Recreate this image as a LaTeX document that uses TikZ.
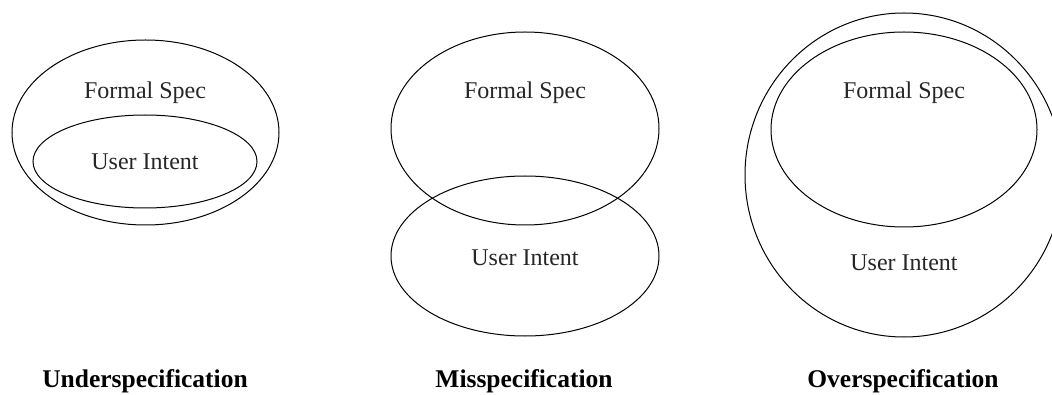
\documentclass[tikz,border=0pt]{standalone}
\usepackage{fontspec}
\setmainfont{Liberation Serif}
\usetikzlibrary{shapes.geometric}
\begin{document}
\begin{tikzpicture}[x=1pt,y=-1pt,
  set/.style={draw, ellipse, line width=1pt, inner sep=0pt, outer sep=0pt},
  lbl/.style={font=\fontsize{24}{27}\selectfont, inner sep=0pt, text=black!85},
  captxt/.style={font=\fontsize{25.5}{28}\selectfont\bfseries, inner sep=0pt, anchor=base}]
\useasboundingbox (0,0) rectangle (1052,395);
\clip (0,0) rectangle (1052,395);
% Underspecification
\node[set, minimum width=267pt, minimum height=185pt] (uo) at (145.5,132.5) {};
\node[set, minimum width=224pt, minimum height=93pt] (ui) at (145,161.5) {};
\node[lbl] (uf) at (145,93) {Formal Spec};
\node[lbl] (uu) at (145,162) {User Intent};
% Misspecification
\node[set, minimum width=268pt, minimum height=193pt] (mt) at (525,128.5) {};
\node[set, minimum width=268pt, minimum height=160pt] (mb) at (525,256) {};
\node[lbl] (mf) at (525,93) {Formal Spec};
\node[lbl] (mu) at (525,258) {User Intent};
% Overspecification
\node[set, minimum width=318pt, minimum height=324pt] (oo) at (904,175) {};
\node[set, minimum width=266pt, minimum height=195pt] (oi) at (904,129.5) {};
\node[lbl] (of) at (904,93) {Formal Spec};
\node[lbl] (ou) at (904,263) {User Intent};
% Captions
\node[captxt] (cu) at (145,387) {Underspecification};
\node[captxt] (cm) at (524,387) {Misspecification};
\node[captxt] (co) at (903,387) {Overspecification};
\end{tikzpicture}
\end{document}
